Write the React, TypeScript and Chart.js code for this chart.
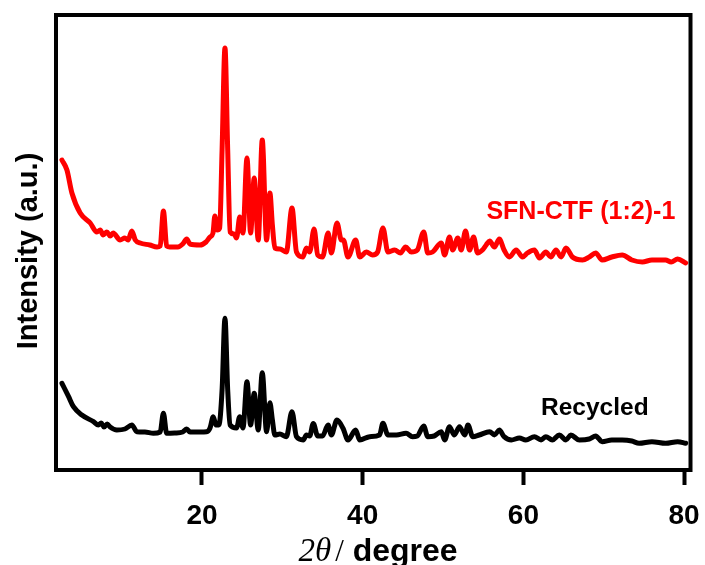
import React, { useEffect, useRef } from 'react';
import { Chart, registerables } from 'chart.js';

Chart.register(...registerables);

// 2θ (degree) and intensity (a.u., red pattern offset upward)
const redTheta = [
  2.57, 3.19, 3.81, 4.84, 6.09, 6.92, 7.33, 7.7, 8.16, 8.57, 8.94, 9.81, 10.4, 10.8, 11.27, 11.7, 12.3, 13.5, 14.4, 14.8,
  15.2, 15.6, 16.0, 17.0, 17.6, 18.1, 18.5, 19.75, 20.5, 21.0, 21.37, 21.6, 21.9, 22.2, 22.5, 22.86, 23.2, 23.5, 24.0, 24.3,
  24.7, 25.1, 25.6, 26.05, 26.5, 27.0, 27.5, 28.04, 28.45, 28.76, 29.07, 29.7, 30.5, 31.2, 31.76, 32.55, 33.0, 33.4, 33.95, 34.4,
  35.0, 35.7, 36.1, 36.8, 37.35, 37.6, 38.17, 39.13, 39.63, 40.46, 41.24, 41.86, 42.52, 43.14, 43.98, 44.7, 45.34, 46.05, 46.8, 47.6,
  48.1, 48.7, 49.78, 50.2, 50.8, 51.2, 51.84, 52.26, 52.8, 53.3, 53.8, 54.3, 54.9, 55.37, 55.8, 56.4, 57.0, 57.6, 58.26, 59.1,
  59.9, 60.5, 61.37, 62.0, 62.8, 63.4, 64.06, 64.7, 65.3, 66.1, 67.37, 68.2, 69.0, 69.8, 71.0, 72.3, 73.5, 74.8, 76.0, 77.7,
  78.4, 79.2, 80.2,
];
const redIntensity = [
  310, 300, 277, 257, 247, 238, 240, 235, 238, 234, 237, 230, 232, 230, 239, 230, 227, 225, 223, 224,
  259, 224, 223, 223, 226, 231, 226, 225, 228, 233, 237, 254, 240, 242, 320, 422, 320, 238, 236, 232,
  253, 237, 312, 237, 292, 230, 330, 230, 277, 245, 222, 221, 218, 262, 218, 213, 222, 218, 241, 215,
  213, 237, 217, 247, 230, 230, 213, 230, 213, 218, 215, 218, 242, 218, 220, 217, 223, 218, 220, 238,
  217, 218, 227, 215, 233, 220, 232, 220, 239, 220, 233, 217, 220, 225, 229, 223, 231, 220, 213, 220,
  213, 217, 220, 212, 218, 213, 220, 213, 222, 213, 210, 213, 217, 210, 213, 215, 210, 208, 210, 210,
  208, 211, 207,
];

const blackTheta = [
  2.57, 3.4, 4.0, 5.05, 6.5, 7.1, 7.45, 7.8, 8.2, 8.57, 9.4, 10.4, 11.27, 11.9, 12.9, 13.95, 14.8, 15.2, 15.6, 16.6,
  17.6, 18.1, 18.5, 19.75, 20.58, 21.0, 21.4, 21.74, 22.1, 22.5, 22.86, 23.2, 23.5, 24.3, 24.7, 25.1, 25.6, 26.05, 26.5, 27.0,
  27.5, 28.04, 28.45, 28.76, 29.07, 29.7, 30.5, 31.2, 31.76, 32.6, 33.0, 33.4, 33.85, 34.4, 35.0, 35.7, 36.1, 36.8, 37.55, 38.17,
  39.13, 39.63, 40.87, 42.1, 42.52, 43.14, 44.2, 45.4, 46.2, 46.8, 47.6, 48.1, 48.9, 49.78, 50.2, 50.8, 51.4, 52.05, 52.7, 53.1,
  53.7, 54.5, 55.8, 56.4, 57.0, 57.6, 58.5, 59.5, 60.3, 61.37, 62.2, 62.8, 63.6, 64.47, 65.3, 65.9, 66.96, 68.2, 69.0, 69.8,
  71.0, 72.3, 73.5, 74.4, 76.0, 77.7, 79.2, 80.2,
];
const blackIntensity = [
  86.7, 73.3, 63.3, 55, 48.3, 45, 47, 43, 46, 43, 40, 41, 45, 38.3, 38, 36.7, 38, 56.7, 36.7, 37,
  38, 41, 38, 38, 38.3, 42, 53.3, 45, 45, 80, 151.7, 80, 45, 42, 53.3, 42, 88.3, 45, 76.7, 40,
  97.3, 38.3, 67.3, 50, 35, 36, 33.3, 58.3, 33.3, 30, 35, 34, 46.5, 34, 34, 45, 35, 50, 41.7, 30,
  40, 30, 33.3, 35, 46.7, 35, 35, 36.7, 33.3, 34, 44, 33.3, 34, 38.3, 30, 43.3, 35, 43.3, 35, 45,
  33.3, 35, 38.3, 35, 40, 33.3, 30, 32, 30, 33.3, 30, 33.3, 30, 35, 30, 35, 30, 31, 34, 28.3,
  30, 30, 29, 26.7, 28.3, 26.7, 28.3, 26.7,
];

const xTickValues = [20, 40, 60, 80];
const seriesNames = ['SFN-CTF (1:2)-1', 'Recycled'];
const seriesColors = ['#ff0000', '#000000'];
// label anchors (2θ, intensity) for the text annotations
const labelTheta = [55.4, 62.2];
const labelIntensity = [251, 55];
const yTitle = 'Intensity (a.u.)';
const xTitleParts = ['2θ', '/', 'degree'];

const decorPlugin = {
  id: 'decor',
  afterDatasetsDraw(chart: any) {
    const { ctx, chartArea } = chart;
    const xs = chart.scales.x;
    const ys = chart.scales.y;
    ctx.save();
    // frame
    ctx.strokeStyle = '#000';
    ctx.lineWidth = 4;
    ctx.strokeRect(chartArea.left, chartArea.top, chartArea.right - chartArea.left, chartArea.bottom - chartArea.top);

    // series labels
    ctx.textBaseline = 'alphabetic';
    ctx.textAlign = 'left';
    const sizes = [25, 24.5];
    for (let i = 0; i < seriesNames.length; i++) {
      ctx.fillStyle = seriesColors[i];
      ctx.font = `bold ${sizes[i]}px "Liberation Sans", Arial, sans-serif`;
      ctx.fillText(seriesNames[i], xs.getPixelForValue(labelTheta[i]), ys.getPixelForValue(labelIntensity[i]));
    }

    // y title
    ctx.fillStyle = '#000';
    ctx.save();
    ctx.translate(36.5, 251);
    ctx.rotate(-Math.PI / 2);
    ctx.textAlign = 'center';
    ctx.font = 'bold 29px "Liberation Sans", Arial, sans-serif';
    ctx.fillText(yTitle, 0, 0);
    ctx.restore();

    // x title with mixed fonts
    const fonts = [
      'italic 33px "Liberation Serif", "Times New Roman", serif',
      '31px "Liberation Serif", "Times New Roman", serif',
      'bold 32px "Liberation Sans", Arial, sans-serif',
    ];
    const gaps = [0, 4, 0];
    const texts = [xTitleParts[0], xTitleParts[1], ' ' + xTitleParts[2]];
    let total = 0;
    const widths: number[] = [];
    for (let i = 0; i < texts.length; i++) {
      ctx.font = fonts[i];
      const w = ctx.measureText(texts[i]).width;
      widths.push(w);
      total += w + gaps[i];
    }
    let x = 378 - total / 2;
    const baseY = 561;
    ctx.textAlign = 'left';
    for (let i = 0; i < texts.length; i++) {
      ctx.font = fonts[i];
      x += gaps[i];
      ctx.fillText(texts[i], x, baseY);
      x += widths[i];
    }
    ctx.restore();
  },
};

export default function App() {
  const canvasRef = useRef<HTMLCanvasElement | null>(null);

  useEffect(() => {
    if (!canvasRef.current) return;
    const common = {
      borderWidth: 5,
      pointRadius: 0,
      fill: false,
      cubicInterpolationMode: 'monotone',
      borderJoinStyle: 'round',
      borderCapStyle: 'round',
    };
    const chart = new Chart(canvasRef.current, {
      type: 'line',
      data: {
        datasets: [
          {
            ...common,
            label: seriesNames[0],
            data: redTheta.map((t, i) => ({ x: t, y: redIntensity[i] })),
            borderColor: seriesColors[0],
          },
          {
            ...common,
            label: seriesNames[1],
            data: blackTheta.map((t, i) => ({ x: t, y: blackIntensity[i] })),
            borderColor: seriesColors[1],
          },
        ],
      },
      options: {
        animation: false,
        responsive: false,
        devicePixelRatio: 1,
        layout: { padding: { left: 56, top: 15, right: 14.5, bottom: 18.4 } },
        plugins: {
          legend: { display: false },
          tooltip: { enabled: false },
          title: { display: false },
        },
        scales: {
          x: {
            type: 'linear',
            min: 1.83,
            max: 80.8,
            afterBuildTicks: (axis: any) => {
              axis.ticks = xTickValues.map((v) => ({ value: v }));
            },
            afterFit: (axis: any) => {
              axis.paddingLeft = 0;
              axis.paddingRight = 0;
            },
            border: { display: false },
            grid: {
              display: true,
              drawOnChartArea: false,
              drawTicks: true,
              tickLength: 15,
              tickWidth: 4,
              tickColor: '#000',
            },
            ticks: {
              color: '#000',
              font: { family: '"Liberation Sans", Arial, sans-serif', size: 28, weight: 'bold' },
              padding: 14,
              maxRotation: 0,
              autoSkip: false,
            },
          },
          y: {
            type: 'linear',
            display: false,
            min: 0,
            max: 455,
          },
        },
      } as any,
      plugins: [decorPlugin],
    });
    return () => chart.destroy();
  }, []);

  return (
    <div style={{ position: 'absolute', left: 0, top: 0, width: 705, height: 565, background: '#fff' }}>
      <canvas ref={canvasRef} width={705} height={565} style={{ width: 705, height: 565, display: 'block' }} />
    </div>
  );
}
